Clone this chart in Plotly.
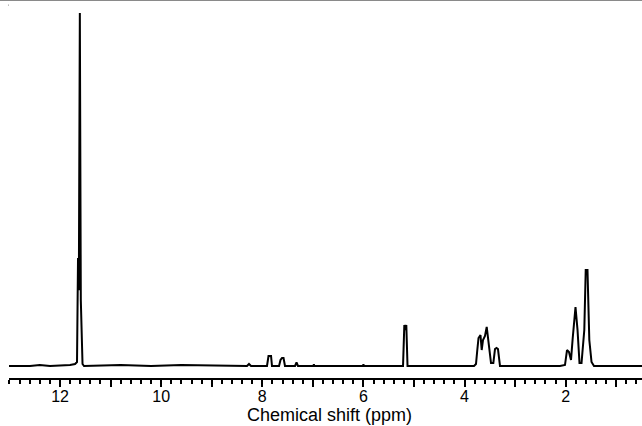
import plotly.graph_objects as go

# Spectrum trace (chemical shift in ppm, relative intensity in %)
ppm = [13.009, 12.593, 12.400, 12.198, 11.802, 11.703, 11.664, 11.644, 11.628, 11.608,
       11.589, 11.575, 11.555, 11.525, 10.800, 10.200, 9.600,
       8.302, 8.263, 8.223, 7.907, 7.877, 7.827, 7.808,
       7.669, 7.640, 7.610, 7.580, 7.551, 7.353, 7.323, 7.294,
       6.990, 6.980, 6.970, 6.010, 6.000, 5.990,
       5.217, 5.191, 5.172, 5.152, 5.128,
       3.813, 3.774, 3.748, 3.724, 3.685, 3.661, 3.635, 3.596, 3.562, 3.510,
       3.477, 3.431, 3.398, 3.368, 3.339, 3.299,
       2.112, 2.014, 1.974, 1.935, 1.895, 1.861, 1.806, 1.766, 1.727, 1.687,
       1.632, 1.604, 1.569, 1.533, 1.489, 1.440, 0.491]
intensity = [0.0, 0.0, 0.28, 0.0, 0.28, 0.57, 1.13, 30.6, 21.5, 100.0,
             18.7, 11.6, 0.57, 0.0, 0.28, 0.0, 0.28,
             0.0, 0.57, 0.0, 0.0, 2.83, 2.83, 0.0,
             0.0, 1.7, 2.27, 2.27, 0.0, 0.0, 0.99, 0.0,
             0.0, 0.45, 0.0, 0.0, 0.45, 0.0,
             0.0, 11.6, 10.2, 11.6, 0.0,
             0.0, 0.57, 4.53, 7.93, 8.78, 4.53, 7.37, 8.5, 11.05, 4.53,
             0.85, 0.85, 4.8, 5.1, 4.8, 0.0,
             0.0, 0.28, 4.53, 3.97, 1.7, 7.93, 16.7, 10.2, 0.85, 0.85,
             10.2, 27.2, 27.2, 7.37, 1.13, 0.0, 0.0]

major_ticks = [1, 2, 3, 4, 5, 6, 7, 8, 9, 10, 11, 12]
major_labels = ["", "2", "", "4", "", "6", "", "8", "", "10", "", "12"]
x_title = "Chemical shift (ppm)"

fig = go.Figure()
fig.add_trace(go.Scatter(x=ppm, y=intensity, mode="lines",
                         line=dict(color="black", width=2), hoverinfo="skip",
                         showlegend=False))

fig.update_layout(
    width=642, height=426,
    margin=dict(l=9, r=0, t=0, b=48, pad=0),
    paper_bgcolor="white", plot_bgcolor="white",
    font=dict(family="Liberation Sans, Arial, sans-serif", color="black"),
    xaxis=dict(
        range=[13.009, 0.491], showgrid=False, zeroline=False, automargin=False,
        showline=True, linecolor="black", linewidth=2,
        ticks="outside", ticklen=7, tickwidth=2, tickcolor="black",
        tickmode="array", tickvals=major_ticks, ticktext=major_labels,
        tickfont=dict(size=16, color="black"), ticklabelstandoff=-4,
        minor=dict(ticks="outside", ticklen=4, tickwidth=2, tickcolor="black",
                   tickmode="linear", tick0=0, dtick=0.2),
    ),
    yaxis=dict(range=[-3.40, 103.68], visible=False, showgrid=False, zeroline=False,
               automargin=False),
    annotations=[
        dict(text=x_title, xref="paper", yref="paper", x=0.506, y=-0.099,
             xanchor="center", yanchor="middle", showarrow=False,
             font=dict(size=18, color="black")),
    ],
    shapes=[
        dict(type="line", xref="paper", yref="paper", x0=-0.0142, x1=1.0, y0=1.0, y1=1.0,
             line=dict(color="#8a8a8a", width=2)),
        dict(type="rect", xref="paper", yref="paper", x0=-0.0016, x1=0.0, y0=0.985, y1=0.988,
             line=dict(width=0), fillcolor="#aaaaaa"),
    ],
)

fig.write_html(
    "out.html",
    config={"displayModeBar": False, "responsive": False},
    post_script="document.documentElement.style.margin='0';document.body.style.margin='0';"
                "document.body.style.overflow='hidden';",
)
